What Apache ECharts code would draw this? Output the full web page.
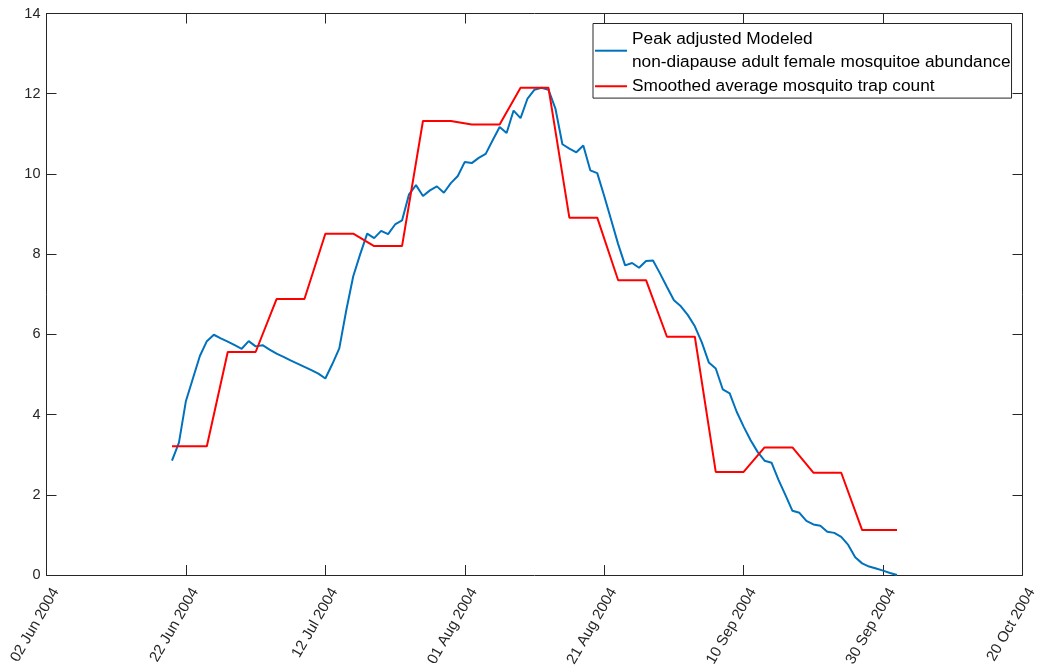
<!DOCTYPE html>
<html>
<head>
<meta charset="utf-8">
<title>Mosquito abundance 2004</title>
<script src="https://cdn.jsdelivr.net/npm/echarts@6/dist/echarts.min.js"></script>
<style>
  html, body { margin: 0; padding: 0; background: #fff; }
  #chart { width: 1039px; height: 667px; }
</style>
</head>
<body>
<div id="chart"></div>
<script>
// Date axis range and tick spacing
const axisStart = '2004-06-02';
const axisEnd = '2004-10-20';
const tickStepDays = 20;
const monthNames = ['Jan', 'Feb', 'Mar', 'Apr', 'May', 'Jun', 'Jul', 'Aug', 'Sep', 'Oct', 'Nov', 'Dec'];

// Value axis
const yMin = 0;
const yMax = 14;
const yStep = 2;

// Series names
const modeledName = 'Peak adjusted Modeled\nnon-diapause adult female mosquitoe abundance';
const trapName = 'Smoothed average mosquito trap count';

// Modeled abundance: one value per day, starting at modeledStart
const modeledStart = '2004-06-20';
const modeledValues = [
  2.85, 3.30, 4.34, 4.90, 5.46, 5.83, 5.99, 5.90, 5.82, 5.73,
  5.64, 5.83, 5.70, 5.73, 5.62, 5.52, 5.44, 5.35, 5.27, 5.19,
  5.11, 5.02, 4.90, 5.26, 5.65, 6.60, 7.45, 8.00, 8.51, 8.40,
  8.58, 8.50, 8.74, 8.84, 9.49, 9.72, 9.45, 9.59, 9.69, 9.53,
  9.77, 9.95, 10.30, 10.27, 10.40, 10.50, 10.84, 11.17, 11.02, 11.58,
  11.39, 11.88, 12.10, 12.15, 12.10, 11.63, 10.74, 10.63, 10.54, 10.71,
  10.09, 10.02, 9.45, 8.85, 8.25, 7.72, 7.78, 7.66, 7.83, 7.84,
  7.52, 7.18, 6.85, 6.70, 6.48, 6.20, 5.80, 5.30, 5.15, 4.63,
  4.53, 4.07, 3.70, 3.36, 3.07, 2.85, 2.80, 2.37, 1.99, 1.60,
  1.55, 1.35, 1.26, 1.23, 1.08, 1.05, 0.95, 0.75, 0.44, 0.29,
  0.21, 0.16, 0.11, 0.05, 0.00
];

// Smoothed trap counts: dates where the curve changes slope, and the values there
const trapDates = [
  '2004-06-20', '2004-06-25', '2004-06-28', '2004-07-02', '2004-07-05', '2004-07-09',
  '2004-07-12', '2004-07-16', '2004-07-19', '2004-07-23', '2004-07-26', '2004-07-30',
  '2004-08-02', '2004-08-06', '2004-08-09', '2004-08-13', '2004-08-16', '2004-08-20',
  '2004-08-23', '2004-08-27', '2004-08-30', '2004-09-03', '2004-09-06', '2004-09-10',
  '2004-09-13', '2004-09-17', '2004-09-20', '2004-09-24', '2004-09-27', '2004-10-02'
];
const trapValues = [
  3.21, 3.21, 5.56, 5.56, 6.88, 6.88,
  8.51, 8.51, 8.20, 8.20, 11.32, 11.32,
  11.23, 11.23, 12.15, 12.15, 8.91, 8.91,
  7.35, 7.35, 5.94, 5.94, 2.57, 2.57,
  3.18, 3.18, 2.55, 2.55, 1.12, 1.12
];

// x positions are whole days counted from the first axis date
const DAY_MS = 86400000;
function toUTC(s) {
  const p = s.split('-').map(Number);
  return Date.UTC(p[0], p[1] - 1, p[2]);
}
const originMs = toUTC(axisStart);
function dayIndex(s) { return Math.round((toUTC(s) - originMs) / DAY_MS); }
function dayLabel(d) {
  const dt = new Date(originMs + d * DAY_MS);
  const dd = String(dt.getUTCDate()).padStart(2, '0');
  return dd + ' ' + monthNames[dt.getUTCMonth()] + ' ' + dt.getUTCFullYear();
}

const modeledOffset = dayIndex(modeledStart);
const modeledData = modeledValues.map((v, i) => [modeledOffset + i, v]);
const trapData = trapDates.map((d, i) => [dayIndex(d), trapValues[i]]);

const FONT = 'Liberation Sans, Arial, Helvetica, sans-serif';
const AXIS_COLOR = '#262626';
const BLUE = '#0072BD';
const RED = '#FF0000';

const baseX = {
  type: 'value',
  min: 0,
  max: dayIndex(axisEnd),
  interval: tickStepDays,
  splitLine: { show: false },
  axisLine: { show: true, onZero: false, lineStyle: { color: AXIS_COLOR, width: 1 } },
  axisTick: { show: true, inside: true, length: 10, lineStyle: { color: AXIS_COLOR } }
};
const baseY = {
  type: 'value',
  min: yMin,
  max: yMax,
  interval: yStep,
  splitLine: { show: false },
  axisLine: { show: true, onZero: false, lineStyle: { color: AXIS_COLOR, width: 1 } },
  axisTick: { show: true, inside: true, length: 10, lineStyle: { color: AXIS_COLOR } }
};

const chart = echarts.init(document.getElementById('chart'), null, { renderer: 'canvas' });
chart.setOption({
  animation: false,
  backgroundColor: '#ffffff',
  textStyle: { fontFamily: FONT },
  grid: {
    left: 46.5, right: 16.5, top: 13.5, bottom: 92,
    containLabel: false, outerBoundsMode: 'none'
  },
  xAxis: [
    Object.assign({}, baseX, {
      position: 'bottom',
      axisLabel: {
        show: true, rotate: 60, margin: 9, fontSize: 15, color: AXIS_COLOR,
        fontFamily: FONT, verticalAlign: 'top', padding: [3, 0, 0, 0],
        showMinLabel: true, showMaxLabel: true,
        formatter: v => dayLabel(v)
      }
    }),
    Object.assign({}, baseX, { position: 'top', axisLabel: { show: false } })
  ],
  yAxis: [
    Object.assign({}, baseY, {
      position: 'left',
      axisLabel: { show: true, margin: 6, fontSize: 14.5, color: AXIS_COLOR, fontFamily: FONT }
    }),
    Object.assign({}, baseY, { position: 'right', axisLabel: { show: false } })
  ],
  legend: {
    orient: 'vertical',
    left: 593,
    top: 23.5,
    padding: [3.5, 1, 0, 2],
    itemGap: 0,
    itemWidth: 32,
    itemHeight: 2,
    icon: 'rect',
    borderColor: AXIS_COLOR,
    borderWidth: 1,
    backgroundColor: '#ffffff',
    selectedMode: false,
    textStyle: { fontSize: 17.3, lineHeight: 23.7, color: '#000', fontFamily: FONT },
    data: [
      { name: modeledName, itemStyle: { color: BLUE } },
      { name: trapName, itemStyle: { color: RED } }
    ]
  },
  series: [
    {
      name: modeledName,
      type: 'line',
      xAxisIndex: 0,
      yAxisIndex: 0,
      data: modeledData,
      symbol: 'none',
      lineStyle: { color: BLUE, width: 2 },
      itemStyle: { color: BLUE },
      z: 2
    },
    {
      name: trapName,
      type: 'line',
      xAxisIndex: 0,
      yAxisIndex: 0,
      data: trapData,
      symbol: 'none',
      lineStyle: { color: RED, width: 2 },
      itemStyle: { color: RED },
      z: 3
    }
  ]
});
</script>
</body>
</html>
